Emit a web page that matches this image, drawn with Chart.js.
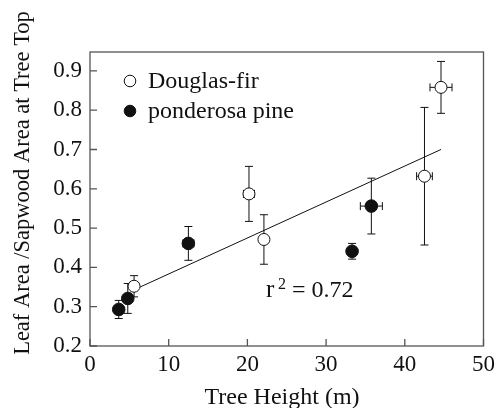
<!DOCTYPE html>
<html>
<head>
<meta charset="utf-8">
<script src="https://cdn.jsdelivr.net/npm/chart.js@4.4.1/dist/chart.umd.min.js"></script>
<style>
  html, body { margin: 0; padding: 0; background: #fff; }
  #wrap { width: 500px; height: 408px; position: relative; }
</style>
</head>
<body>
<div id="wrap"><canvas id="c" width="500" height="408"></canvas></div>
<script>
// ---- Data ----
const seriesNames = ['Douglas-fir', 'ponderosa pine'];

const dfHeight    = [5.6, 20.2, 22.1, 42.5, 44.6];
const dfHeightErr = [0.0, 0.7, 0.0, 1.0, 1.4];
const dfRatio     = [0.352, 0.587, 0.471, 0.632, 0.858];
const dfRatioErr  = [0.027, 0.070, 0.063, 0.175, 0.066];

const ppHeight    = [3.65, 4.8, 12.5, 33.3, 35.75];
const ppHeightErr = [0.0, 0.0, 0.7, 0.0, 1.4];
const ppRatio     = [0.293, 0.321, 0.461, 0.441, 0.556];
const ppRatioErr  = [0.023, 0.038, 0.043, 0.020, 0.071];

const fitX = [5.6, 44.6];
const fitY = [0.343, 0.700];

const xTicks = [0, 10, 20, 30, 40, 50];
const yTicks = [0.2, 0.3, 0.4, 0.5, 0.6, 0.7, 0.8, 0.9];

const xTitle = 'Tree Height (m)';
const yTitle = 'Leaf Area /Sapwood Area at Tree Top';
const r2Text = '0.72';

// ---- Build ----
const toPts = (xs, ys, xe, ye) => xs.map((x, i) => ({x: x, y: ys[i], xe: xe[i], ye: ye[i]}));
const FONT = '"Liberation Serif", "Times New Roman", serif';

const decor = {
  id: 'decor',
  beforeDatasetsDraw(chart) {
    const ctx = chart.ctx, xs = chart.scales.x, ys = chart.scales.y;
    ctx.save();
    ctx.strokeStyle = '#111';
    ctx.lineWidth = 1;
    [0, 1].forEach(di => {
      chart.data.datasets[di].data.forEach(p => {
        const px = xs.getPixelForValue(p.x), py = ys.getPixelForValue(p.y);
        const cap = 4;
        if (p.ye > 0) {
          const t = ys.getPixelForValue(p.y + p.ye), b = ys.getPixelForValue(p.y - p.ye);
          ctx.beginPath();
          ctx.moveTo(px, t); ctx.lineTo(px, b);
          ctx.moveTo(px - cap, t); ctx.lineTo(px + cap, t);
          ctx.moveTo(px - cap, b); ctx.lineTo(px + cap, b);
          ctx.stroke();
        }
        if (p.xe > 0) {
          const l = xs.getPixelForValue(p.x - p.xe), r = xs.getPixelForValue(p.x + p.xe);
          ctx.beginPath();
          ctx.moveTo(l, py); ctx.lineTo(r, py);
          ctx.moveTo(l, py - cap); ctx.lineTo(l, py + cap);
          ctx.moveTo(r, py - cap); ctx.lineTo(r, py + cap);
          ctx.stroke();
        }
      });
    });
    ctx.restore();
  },
  afterDraw(chart) {
    const ctx = chart.ctx, a = chart.chartArea, xs = chart.scales.x, ys = chart.scales.y;
    ctx.save();
    // frame
    ctx.strokeStyle = '#555';
    ctx.lineWidth = 1.3;
    ctx.strokeRect(a.left, a.top, a.right - a.left, a.bottom - a.top);
    // inward ticks
    ctx.beginPath();
    xTicks.forEach(v => {
      const px = xs.getPixelForValue(v);
      ctx.moveTo(px, a.bottom); ctx.lineTo(px, a.bottom - 7);
    });
    yTicks.forEach(v => {
      const py = ys.getPixelForValue(v);
      ctx.moveTo(a.left, py); ctx.lineTo(a.left + 7, py);
    });
    ctx.stroke();

    // legend
    ctx.fillStyle = '#111';
    ctx.font = '24px ' + FONT;
    ctx.textAlign = 'left';
    ctx.textBaseline = 'alphabetic';
    const lx = 130;
    [[81, false], [111, true]].forEach((row, i) => {
      ctx.beginPath();
      ctx.arc(lx, row[0], 5.8, 0, Math.PI * 2);
      ctx.lineWidth = 1;
      ctx.strokeStyle = '#111';
      ctx.fillStyle = row[1] ? '#111' : '#fff';
      ctx.fill();
      ctx.stroke();
      ctx.fillStyle = '#111';
      ctx.fillText(seriesNames[i], 148, row[0] + 7);
    });

    // r^2 annotation
    ctx.font = '25px ' + FONT;
    ctx.fillText('r', 266, 297);
    ctx.font = '16px ' + FONT;
    ctx.fillText('2', 278, 289);
    ctx.font = '24px ' + FONT;
    ctx.fillText('= ' + r2Text, 292, 297);

    // axis titles
    ctx.textAlign = 'center';
    ctx.font = '24px ' + FONT;
    ctx.fillText(xTitle, 282, 404);
    ctx.translate(29, 183);
    ctx.rotate(-Math.PI / 2);
    ctx.font = '22.5px ' + FONT;
    ctx.fillText(yTitle, 0, 0);
    ctx.restore();
  }
};

new Chart(document.getElementById('c'), {
  type: 'scatter',
  data: {
    datasets: [
      {
        label: seriesNames[0],
        data: toPts(dfHeight, dfRatio, dfHeightErr, dfRatioErr),
        pointRadius: 6, pointBackgroundColor: '#fff', pointBorderColor: '#111', pointBorderWidth: 1,
        order: 2
      },
      {
        label: seriesNames[1],
        data: toPts(ppHeight, ppRatio, ppHeightErr, ppRatioErr),
        pointRadius: 6.3, pointBackgroundColor: '#111', pointBorderColor: '#111', pointBorderWidth: 1,
        order: 1
      },
      {
        type: 'line',
        label: 'fit',
        data: fitX.map((x, i) => ({x: x, y: fitY[i]})),
        borderColor: '#111', borderWidth: 1, pointRadius: 0, fill: false,
        order: 3
      }
    ]
  },
  options: {
    responsive: false,
    animation: false,
    devicePixelRatio: 1,
    layout: { padding: { top: 52, right: 12, left: 0, bottom: 0 } },
    plugins: { legend: { display: false }, tooltip: { enabled: false } },
    scales: {
      x: {
        type: 'linear', min: 0, max: 50,
        grid: { display: false, drawTicks: false },
        border: { display: false },
        afterBuildTicks: s => { s.ticks = xTicks.map(v => ({value: v})); },
        afterFit: s => { s.height = 62; },
        ticks: { color: '#111', font: { family: FONT, size: 23 }, padding: 5, maxRotation: 0 }
      },
      y: {
        type: 'linear', min: 0.2, max: 0.948,
        grid: { display: false, drawTicks: false },
        border: { display: false },
        afterBuildTicks: s => { s.ticks = yTicks.map(v => ({value: v})); },
        afterFit: s => { s.width = 90; },
        ticks: { color: '#111', font: { family: FONT, size: 23 }, padding: 8,
                 callback: v => v.toFixed(1) }
      }
    }
  },
  plugins: [decor]
});
</script>
</body>
</html>
